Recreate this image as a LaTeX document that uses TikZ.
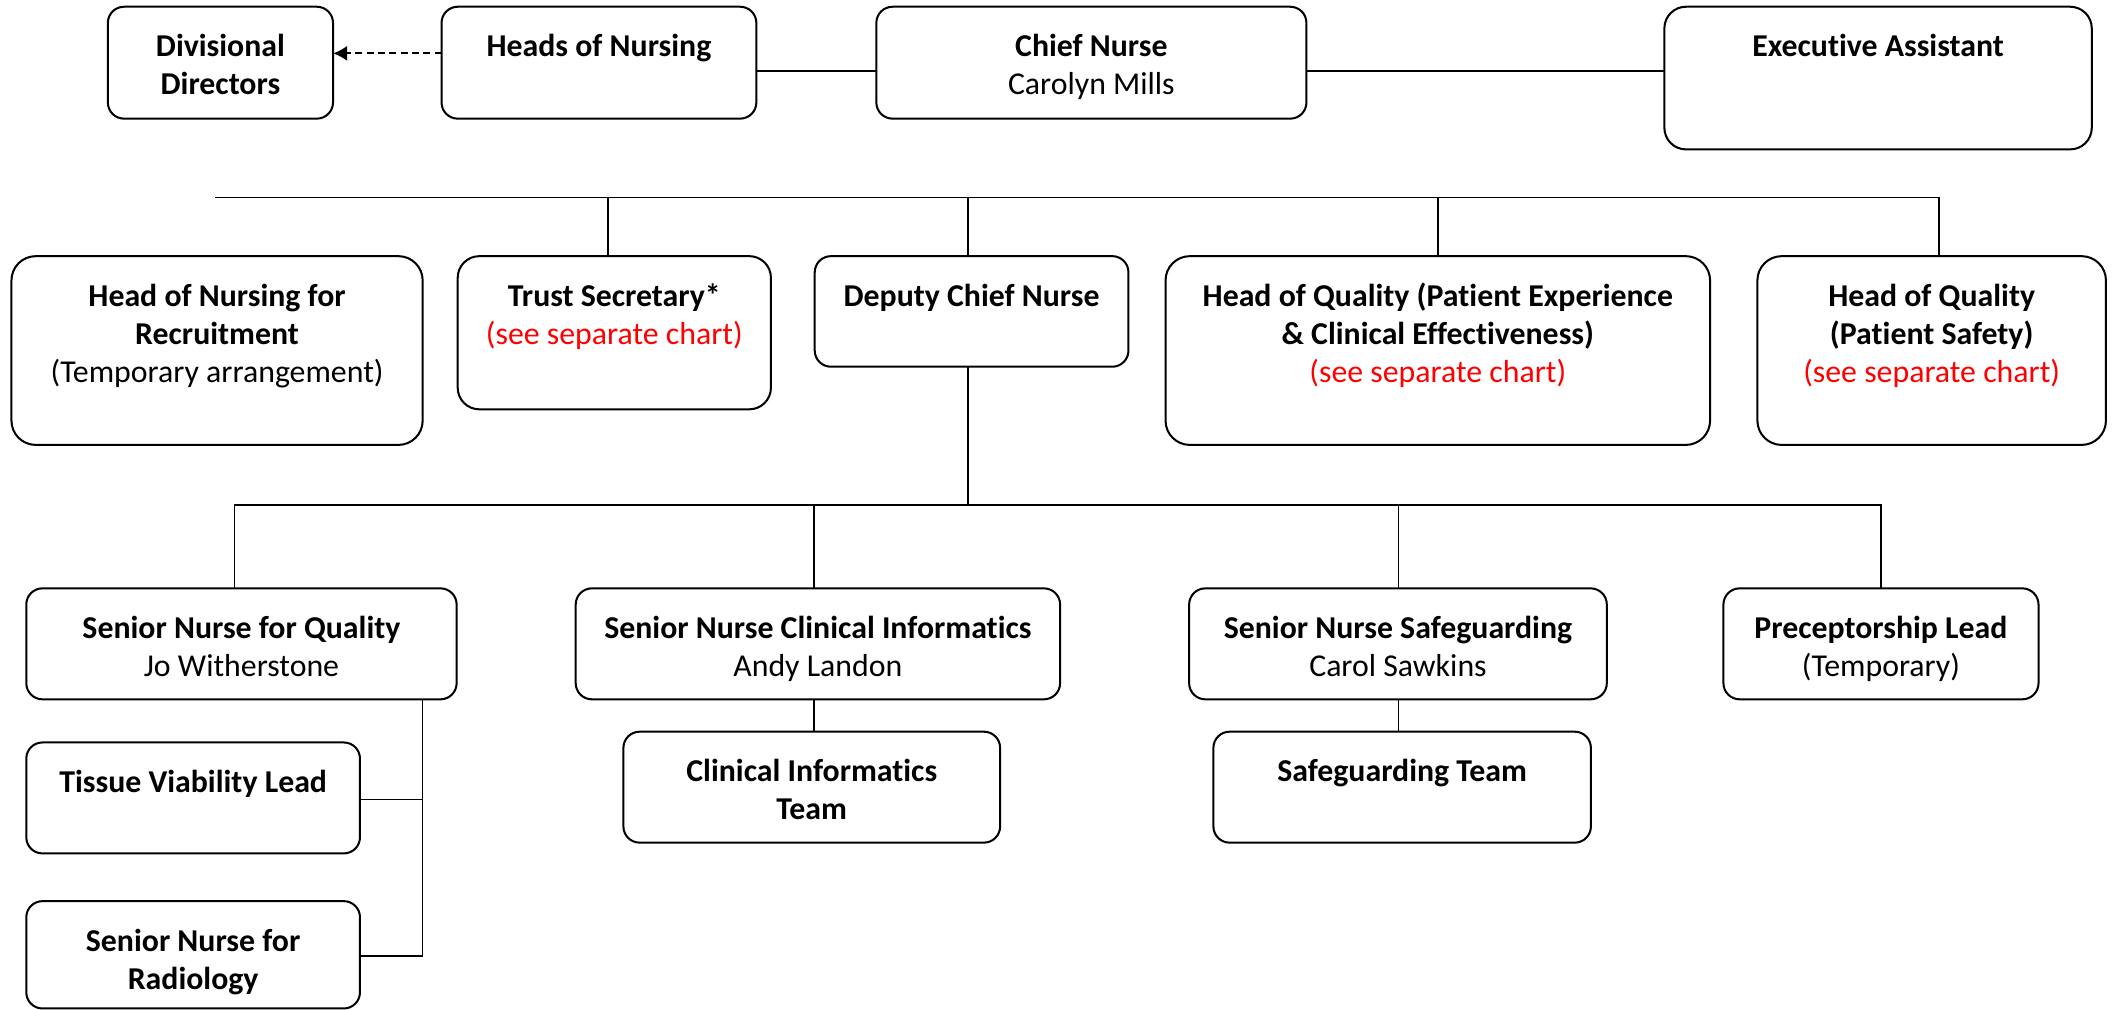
\documentclass[tikz,border=0pt]{standalone}
\usepackage{fontspec}
\setmainfont{Carlito}[Ligatures=NoCommon]
\usetikzlibrary{arrows.meta}
\tikzset{
  obox/.style={draw=black, line width=0.75pt, fill=white, inner sep=0pt, outer sep=0pt, rectangle},
  otext/.style={anchor=north, align=center, inner sep=0pt, outer sep=0pt, font=\fontsize{11.8}{14.1}\selectfont},
  conn/.style={draw=black, line width=0.65pt},
  dasharrow/.style={draw=black, line width=0.75pt, dash pattern=on 2.6pt off 1.6pt, -{Latex[length=5.2pt,width=5.6pt]}}
}
\newcommand{\orgbox}[7]{%
  \node[obox, rounded corners=#6, minimum width={(#4-#2)*0.5pt}, minimum height={(#5-#3)*0.5pt}] (#1) at ({(#2+#4)/2},{(#3+#5)/2}) {};
  \node[otext] (#1-t) at ({(#2+#4)/2},{#3+17.3}) {\strut #7};
}
\newcommand{\sep}{\textcolor{red}{(see separate chart)}}
\begin{document}
\begin{tikzpicture}[x=0.5pt,y=-0.5pt]
\useasboundingbox (0,0) rectangle (1568,749);
% row 1
\orgbox{dd}{80}{5}{247}{88}{6pt}{\textbf{Divisional}\\\textbf{Directors}}
\orgbox{hon}{327.5}{5}{561}{88}{6pt}{\textbf{Heads of Nursing}}
\orgbox{cn}{650}{5}{969}{88}{6pt}{\textbf{Chief Nurse}\\Carolyn Mills}
\orgbox{ea}{1234.5}{5}{1551.5}{110.8}{8pt}{\textbf{Executive Assistant}}
% row 2
\orgbox{hnr}{8.5}{190}{313.5}{330}{9pt}{\textbf{Head of Nursing for}\\\textbf{Recruitment}\\(Temporary arrangement)}
\orgbox{ts}{339.5}{190}{571.8}{303.6}{8pt}{\textbf{Trust Secretary*}\\\sep}
\orgbox{dcn}{604.3}{190}{837}{272}{6pt}{\textbf{Deputy Chief Nurse}}
\orgbox{hqpe}{864.5}{190}{1268.4}{330}{9pt}{\textbf{Head of Quality (Patient Experience}\\\textbf{\& Clinical Effectiveness)}\\\sep}
\orgbox{hqps}{1303.5}{190}{1562}{330}{9pt}{\textbf{Head of Quality}\\\textbf{(Patient Safety)}\\\sep}
% row 3
\orgbox{snq}{19.5}{436.4}{338.7}{518.7}{6pt}{\textbf{Senior Nurse for Quality}\\Jo Witherstone}
\orgbox{snci}{427}{436.4}{786.3}{518.7}{6pt}{\textbf{Senior Nurse Clinical Informatics}\\Andy Landon}
\orgbox{sns}{882}{436.4}{1191.8}{518.7}{6pt}{\textbf{Senior Nurse Safeguarding}\\Carol Sawkins}
\orgbox{pl}{1278.3}{436.4}{1512}{518.7}{6pt}{\textbf{Preceptorship Lead}\\(Temporary)}
% row 4
\orgbox{cit}{462.4}{542.7}{741.8}{625}{6pt}{\textbf{Clinical Informatics}\\\textbf{Team}}
\orgbox{sgt}{900}{542.7}{1180}{625}{6pt}{\textbf{Safeguarding Team}}
\orgbox{tvl}{19.5}{550.7}{267}{633}{6pt}{\textbf{Tissue Viability Lead}}
\orgbox{snr}{19.5}{668.4}{267}{748}{6pt}{\textbf{Senior Nurse for}\\\textbf{Radiology}}
% top connectors
\draw[dasharrow] (hon.west |- 0,39.6) -- (dd.east |- 0,39.6);
\coordinate (l1) at (hon.east |- 0,52.7);
\draw[conn] (l1) -- (l1 -| cn.west);
\coordinate (l2) at (cn.east |- 0,52.7);
\draw[conn] (l2) -- (l2 -| ea.west);
% bus 1
\coordinate (b1l) at (159.5,146.5);
\coordinate (b1r) at (1438,146.5);
\draw[conn] (b1l) -- (b1r) -- (b1r |- hqps.north);
\draw[conn] (450.9,146.5) -- (450.9,0 |- ts.north);
\draw[conn] (717.7,146.5) -- (717.7,0 |- dcn.north);
\draw[conn] (1066.7,146.5) -- (1066.7,0 |- hqpe.north);
% bus 2
\coordinate (b2l) at (174,374.6);
\coordinate (b2r) at (1395,374.6);
\draw[conn] (717.7,0 |- dcn.south) -- (717.7,374.6);
\draw[conn] (b2l |- snq.north) -- (b2l) -- (b2r) -- (b2r |- pl.north);
\draw[conn] (603.8,374.6) -- (603.8,0 |- snci.north);
\draw[conn] (1037.2,374.6) -- (1037.2,0 |- sns.north);
% sub teams
\draw[conn] (603.8,0 |- snci.south) -- (603.8,0 |- cit.north);
\draw[conn] (1037.2,0 |- sns.south) -- (1037.2,0 |- sgt.north);
% quality bracket
\coordinate (qb) at (313.3,708.9);
\draw[conn] (313.3,0 |- snq.south) -- (qb) -- (qb -| snr.east);
\draw[conn] (313.3,593) -- (tvl.east |- 0,593);
\end{tikzpicture}
\end{document}
